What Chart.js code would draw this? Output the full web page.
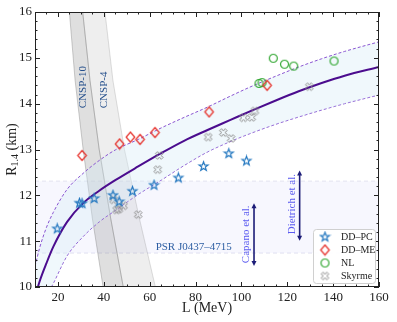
<!DOCTYPE html>
<html>
<head>
<meta charset="utf-8">
<script src="https://cdn.jsdelivr.net/npm/chart.js@4.4.1/dist/chart.umd.min.js"></script>
<style>
  html, body { margin: 0; padding: 0; background: #fff; }
</style>
</head>
<body>
<canvas id="c" width="397" height="322"></canvas>
<script>
// ===== data =====
const DDPC_L = [19.7, 29.4, 30.5, 35.8, 44.0, 46.7, 52.5, 61.9, 72.5, 83.5, 94.5, 102.2];
const DDPC_R = [11.27, 11.83, 11.82, 11.93, 12.00, 11.86, 12.09, 12.22, 12.38, 12.63, 12.91, 12.75];
const DDME_L = [30.5, 46.9, 51.6, 55.8, 62.3, 85.9, 111.2];
const DDME_R = [12.87, 13.12, 13.27, 13.22, 13.37, 13.82, 14.40];
const NL_L = [107.7, 109.0, 113.9, 118.8, 122.8, 140.4];
const NL_R = [14.44, 14.46, 14.99, 14.86, 14.82, 14.93];
const SKY_L = [44.3, 45.6, 46.6, 48.6, 55.0, 63.5, 64.2, 85.5, 92.1, 95.5, 100.9, 104.5, 105.9, 129.6];
const SKY_R = [11.90, 11.68, 11.70, 11.77, 11.58, 12.56, 12.87, 13.27, 13.37, 13.24, 13.69, 13.70, 13.84, 14.37];

// fit + band
const BAND_L = [10, 12, 15, 18, 24, 31, 38, 45, 55, 65, 75, 85, 95, 105, 115, 125, 135, 145, 160];
const FIT_R = [9.78, 10.12, 10.52, 10.88, 11.42, 11.83, 12.10, 12.33, 12.63, 12.92, 13.19, 13.42, 13.64, 13.86, 14.07, 14.27, 14.45, 14.61, 14.80];
const UPPER_R = [10.45, 10.85, 11.30, 11.63, 12.13, 12.48, 12.76, 12.99, 13.22, 13.47, 13.70, 13.92, 14.16, 14.39, 14.60, 14.80, 14.98, 15.14, 15.35];
const LOWER_R = [9.20, 9.50, 9.80, 10.08, 10.68, 11.10, 11.42, 11.67, 12.02, 12.33, 12.65, 12.94, 13.17, 13.37, 13.55, 13.71, 13.86, 14.00, 14.19];

// PSR J0437-4715 radius band
const PSR_L = [10, 160];
const PSR_R = [10.74, 12.31];

// CNSP bands (L at given R)
const CNSP_R = [16, 14.5, 13, 11.5, 10];
const CNSP10_L = [25.0, 27.5, 31.0, 35.0, 39.7];
const CNSP_MID_L = [30.8, 34.0, 38.0, 43.0, 48.5];
const CNSP4_L = [40.5, 44.0, 49.0, 55.5, 62.5];

// Capano / Dietrich arrows
const ARROW_L = [105.5, 125.4];
const ARROW_LO = [10.46, 11.01];
const ARROW_HI = [11.83, 12.54];

const SERIF = '"Liberation Serif", "DejaVu Serif", serif';

function pts(xs, ys) { return xs.map((x, i) => ({ x, y: ys[i] })); }

// band polygons: down one edge, back up the other
function poly(leftL, rightL) {
    const down = leftL.map((l, i) => ({ x: l, y: CNSP_R[i] }));
    const up = rightL.map((l, i) => ({ x: l, y: CNSP_R[i] })).reverse();
    return down.concat(up, [down[0]]);
}

function marker(kind, color, lw) {
    const c = document.createElement('canvas');
    c.width = c.height = 13;
    const g = c.getContext('2d');
    g.strokeStyle = color;
    g.lineWidth = lw;
    g.translate(6.5, 6.5);
    g.beginPath();
    if (kind === 'star') {
        for (let i = 0; i < 10; i++) {
            const r = i % 2 ? 1.9 : 4.7;
            const a = -Math.PI / 2 + i * Math.PI / 5;
            g.lineTo(r * Math.cos(a), r * Math.sin(a));
        }
    } else if (kind === 'diamond') {
        g.moveTo(0, -5); g.lineTo(4.3, 0); g.lineTo(0, 5); g.lineTo(-4.3, 0);
    } else if (kind === 'circle') {
        g.arc(0, 0, 4, 0, Math.PI * 2);
    } else {
        const h = 3.9, d = 2.1, n = 1.5;
        const v = [[-h, -h + d], [-h + d, -h], [0, -n], [h - d, -h], [h, -h + d], [n, 0],
                   [h, h - d], [h - d, h], [0, n], [-h + d, h], [-h, h - d], [-n, 0]];
        v.forEach(p => g.lineTo(p[0], p[1]));
    }
    g.closePath();
    g.stroke();
    return c;
}

const MK = {
    star: marker('star', '#2478c0', 1.2),
    diamond: marker('diamond', '#e6302a', 1.2),
    circle: marker('circle', '#34a834', 1.2),
    sky: marker('sky', '#8c8c8c', 0.9),
};

const LEGEND = [
    { img: MK.star, label: 'DD\u2013PC' },
    { img: MK.diamond, label: 'DD\u2013ME' },
    { img: MK.circle, label: 'NL' },
    { img: MK.sky, label: 'Skyrme' },
];

const decor = {
    id: 'decor',
    beforeDraw(chart) {
        const ctx = chart.ctx;
        ctx.save();
        ctx.fillStyle = '#fff';
        ctx.fillRect(0, 0, chart.width, chart.height);
        ctx.restore();
    },
    afterDatasetsDraw(chart) {
        const ctx = chart.ctx, xs = chart.scales.x, ys = chart.scales.y;
        const X = v => xs.getPixelForValue(v), Y = v => ys.getPixelForValue(v);
        ctx.save();

        function vtext(txt, l, r, color) {
            ctx.save();
            ctx.translate(X(l), Y(r));
            ctx.rotate(-Math.PI / 2);
            ctx.fillStyle = color;
            ctx.font = '11px ' + SERIF;
            ctx.textAlign = 'center';
            ctx.textBaseline = 'middle';
            ctx.fillText(txt, 0, 0);
            ctx.restore();
        }
        vtext('CNSP-10', 30.9, 14.36, '#26508c');
        vtext('CNSP-4', 40.1, 14.30, '#26508c');
        vtext('Capano et al.', 102.0, 11.15, '#5a5af0');
        vtext('Dietrich et al.', 121.9, 11.81, '#5a5af0');

        ctx.fillStyle = '#2d5ea3';
        ctx.font = '11px ' + SERIF;
        ctx.textBaseline = 'middle';
        ctx.fillText('PSR J0437\u20134715', X(62.6), Y(10.87));

        // double arrows
        ctx.strokeStyle = '#1c1c78';
        ctx.fillStyle = '#1c1c78';
        ctx.lineWidth = 1.6;
        ARROW_L.forEach((l, i) => {
            const px = X(l), y0 = Y(ARROW_LO[i]), y1 = Y(ARROW_HI[i]);
            ctx.beginPath(); ctx.moveTo(px, y0 - 3); ctx.lineTo(px, y1 + 3); ctx.stroke();
            ctx.beginPath(); ctx.moveTo(px, y1); ctx.lineTo(px - 2.5, y1 + 5); ctx.lineTo(px + 2.5, y1 + 5); ctx.closePath(); ctx.fill();
            ctx.beginPath(); ctx.moveTo(px, y0); ctx.lineTo(px - 2.5, y0 - 5); ctx.lineTo(px + 2.5, y0 - 5); ctx.closePath(); ctx.fill();
        });
        ctx.restore();
    },
    afterDraw(chart) {
        const ctx = chart.ctx, xs = chart.scales.x, ys = chart.scales.y;
        const { left, right, top, bottom } = chart.chartArea;
        ctx.save();

        // frame + inward ticks on all sides
        ctx.strokeStyle = '#222';
        ctx.lineWidth = 1;
        ctx.strokeRect(Math.round(left) + 0.5, Math.round(top) + 0.5, Math.round(right - left) - 1, Math.round(bottom - top) - 1);
        ctx.beginPath();
        for (let v = 10; v <= 160; v += 5) {
            const px = Math.round(xs.getPixelForValue(v)) + 0.5;
            const len = v % 20 === 0 ? 5 : 2.5;
            ctx.moveTo(px, bottom); ctx.lineTo(px, bottom - len);
            ctx.moveTo(px, top); ctx.lineTo(px, top + len);
        }
        for (let i = 0; i <= 30; i++) {
            const py = Math.round(ys.getPixelForValue(10 + i * 0.2)) + 0.5;
            const len = i % 5 === 0 ? 5 : 2.5;
            ctx.moveTo(left, py); ctx.lineTo(left + len, py);
            ctx.moveTo(right, py); ctx.lineTo(right - len, py);
        }
        ctx.stroke();

        // axis titles
        ctx.fillStyle = '#222';
        ctx.font = '14px ' + SERIF;
        ctx.textAlign = 'center';
        ctx.textBaseline = 'middle';
        ctx.fillText('L (MeV)', (left + right) / 2, 308);

        ctx.save();
        ctx.translate(12, (top + bottom) / 2);
        ctx.rotate(-Math.PI / 2);
        ctx.textAlign = 'left';
        ctx.textBaseline = 'middle';
        const big = '14px ' + SERIF, small = '10px ' + SERIF;
        ctx.font = big; const wR = ctx.measureText('R').width, wK = ctx.measureText(' (km)').width;
        ctx.font = small; const wS = ctx.measureText('1.4').width;
        let x0 = -(wR + wS + wK) / 2;
        ctx.font = big; ctx.fillText('R', x0, 0);
        ctx.font = small; ctx.fillText('1.4', x0 + wR, 3.5);
        ctx.font = big; ctx.fillText(' (km)', x0 + wR + wS, 0);
        ctx.restore();

        // legend box
        const bw = 62, bh = 54, bx = right - 4 - bw, by = bottom - 4 - bh;
        ctx.beginPath();
        ctx.roundRect(bx + 0.5, by + 0.5, bw, bh, 3);
        ctx.fillStyle = 'rgba(255,255,255,0.92)';
        ctx.fill();
        ctx.strokeStyle = '#d0d0d0';
        ctx.stroke();
        ctx.font = '10px ' + SERIF;
        ctx.textAlign = 'left';
        ctx.fillStyle = '#222';
        LEGEND.forEach((it, i) => {
            const cy = by + 8 + i * 13;
            ctx.drawImage(it.img, bx + 12 - 6.5, cy - 6.5);
            ctx.fillText(it.label, bx + 28, cy + 0.5);
        });
        ctx.restore();
    }
};

const lineBase = { showLine: true, pointRadius: 0, pointHoverRadius: 0 };

new Chart(document.getElementById('c'), {
    type: 'scatter',
    data: {
        datasets: [
            { label: 'DD\u2013PC', data: pts(DDPC_L, DDPC_R), pointStyle: MK.star, order: 0 },
            { label: 'DD\u2013ME', data: pts(DDME_L, DDME_R), pointStyle: MK.diamond, order: 0 },
            { label: 'NL', data: pts(NL_L, NL_R), pointStyle: MK.circle, order: 0 },
            { label: 'Skyrme', data: pts(SKY_L, SKY_R), pointStyle: MK.sky, order: 0 },
            { ...lineBase, label: 'fit', data: pts(BAND_L, FIT_R), borderColor: '#4b0c8e', borderWidth: 2, cubicInterpolationMode: 'monotone', order: 1 },
            { ...lineBase, label: 'upper', data: pts(BAND_L, UPPER_R), borderColor: '#8a55d2', borderWidth: 1, borderDash: [3, 2], cubicInterpolationMode: 'monotone', fill: '+1', backgroundColor: 'rgba(214,236,248,0.36)', order: 2 },
            { ...lineBase, label: 'lower', data: pts(BAND_L, LOWER_R), borderColor: '#8a55d2', borderWidth: 1, borderDash: [3, 2], cubicInterpolationMode: 'monotone', order: 2 },
            { ...lineBase, label: 'CNSP-10', data: poly(CNSP10_L, CNSP_MID_L), borderColor: 'rgba(130,130,130,0.4)', borderWidth: 1, fill: 'shape', backgroundColor: 'rgba(120,120,120,0.24)', order: 4 },
            { ...lineBase, label: 'CNSP-4', data: poly(CNSP_MID_L, CNSP4_L), borderColor: 'rgba(150,150,150,0.3)', borderWidth: 1, fill: 'shape', backgroundColor: 'rgba(120,120,120,0.13)', order: 4 },
            { ...lineBase, label: 'psrHi', data: pts(PSR_L, [PSR_R[1], PSR_R[1]]), borderColor: '#e2e2f0', borderWidth: 1, borderDash: [4, 3], fill: '+1', backgroundColor: 'rgba(200,200,245,0.15)', order: 5 },
            { ...lineBase, label: 'psrLo', data: pts(PSR_L, [PSR_R[0], PSR_R[0]]), borderColor: '#e2e2f0', borderWidth: 1, borderDash: [4, 3], order: 5 },
        ]
    },
    options: {
        responsive: false,
        animation: false,
        devicePixelRatio: 1,
        events: [],
        layout: { padding: { left: 0, top: 12, right: 18, bottom: 0 } },
        plugins: { legend: { display: false }, tooltip: { enabled: false } },
        scales: {
            x: {
                type: 'linear', min: 10, max: 160,
                grid: { display: false, drawTicks: false },
                border: { display: false },
                ticks: {
                    stepSize: 5, autoSkip: false, maxRotation: 0, padding: 3,
                    color: '#222', font: { family: SERIF, size: 13 },
                    callback: v => (v % 20 === 0 ? v : '')
                },
                afterFit: s => { s.height = 35; }
            },
            y: {
                type: 'linear', min: 10, max: 16,
                grid: { display: false, drawTicks: false },
                border: { display: false },
                ticks: {
                    stepSize: 0.2, autoSkip: false, padding: 3,
                    color: '#222', font: { family: SERIF, size: 13 },
                    callback: v => (Math.abs(v - Math.round(v)) < 1e-6 ? Math.round(v) : '')
                },
                afterFit: s => { s.width = 35; }
            }
        }
    },
    plugins: [decor]
});
</script>
</body>
</html>
